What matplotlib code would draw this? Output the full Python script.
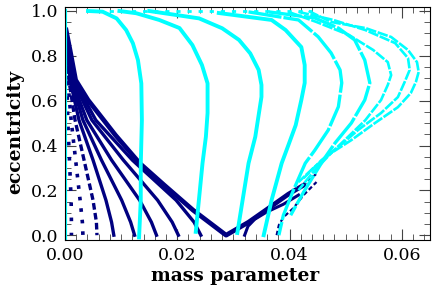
import matplotlib
matplotlib.use("Agg")
import matplotlib.pyplot as plt
from matplotlib.ticker import MultipleLocator

NAVY = "#000080"
CYAN = "#00FFFF"

# ---- cyan curves (mass, eccentricity) ----
c0_m = [0.0, 0.0]
c0_e = [-0.02, 1.0]

c1_m = [0.0041, 0.0067, 0.0092, 0.0109, 0.0121, 0.0130, 0.0136, 0.0137, 0.0135, 0.0135, 0.0132]
c1_e = [1.0, 0.997, 0.967, 0.915, 0.856, 0.781, 0.677, 0.513, 0.313, 0.156, -0.01]

c2_m = [0.0097, 0.0127, 0.0168, 0.0204, 0.0227, 0.0244, 0.0254, 0.0254, 0.0251, 0.0245, 0.0233]
c2_e = [1.0, 0.990, 0.960, 0.924, 0.848, 0.759, 0.677, 0.545, 0.439, 0.321, 0.015]

c3_m = [0.0150, 0.0239, 0.0280, 0.0310, 0.0330, 0.0345, 0.0350, 0.0350, 0.0339, 0.0327, 0.0307]
c3_e = [1.0, 0.967, 0.923, 0.871, 0.811, 0.737, 0.670, 0.617, 0.439, 0.321, 0.01]

c4_m = [0.0274, 0.0368, 0.0393, 0.0421, 0.0427, 0.0427, 0.0421, 0.0411, 0.0398, 0.0386, 0.0368, 0.0354]
c4_e = [0.991, 0.960, 0.915, 0.839, 0.759, 0.679, 0.603, 0.491, 0.402, 0.321, 0.156, 0.0]

c5_m = [0.0327, 0.0416, 0.0451, 0.0474, 0.0490, 0.0493, 0.0487, 0.0469, 0.0445, 0.0428, 0.0407, 0.0389, 0.0381]
c5_e = [0.996, 0.960, 0.885, 0.813, 0.737, 0.679, 0.573, 0.469, 0.379, 0.321, 0.201, 0.089, 0.0]

c6_m = [0.0363, 0.0445, 0.0487, 0.0516, 0.0534, 0.0543, 0.0534, 0.0510, 0.0481, 0.0460, 0.0425, 0.0402]
c6_e = [0.996, 0.969, 0.924, 0.871, 0.781, 0.679, 0.603, 0.500, 0.411, 0.335, 0.192, 0.089]

c7_m = [0.0398, 0.0448, 0.0506, 0.0549, 0.0575, 0.0581, 0.0575, 0.0563, 0.0535, 0.0504, 0.0474, 0.0442, 0.0416]
c7_e = [0.996, 0.951, 0.893, 0.826, 0.772, 0.714, 0.670, 0.603, 0.513, 0.438, 0.366, 0.281, 0.201]

c8_m = [0.0416, 0.0478, 0.0535, 0.0588, 0.0611, 0.0614, 0.0605, 0.0593, 0.0563, 0.0522, 0.0487, 0.0457, 0.0425]
c8_e = [0.996, 0.960, 0.915, 0.857, 0.790, 0.737, 0.683, 0.616, 0.545, 0.469, 0.393, 0.335, 0.254]

c9_m = [0.0434, 0.0474, 0.0535, 0.0581, 0.0611, 0.0627, 0.0630, 0.0625, 0.0616, 0.0593, 0.0552, 0.0510, 0.0474, 0.0442, 0.0416]
c9_e = [1.0, 0.951, 0.924, 0.884, 0.826, 0.772, 0.728, 0.683, 0.634, 0.571, 0.500, 0.424, 0.366, 0.299, 0.237]

# dotted band of points crowding along e ~ 1
top_m = [0.0040, 0.0440]
top_e = [1.0, 1.0]

# ---- navy curves ----
n_e = [0.89, 0.871, 0.692, 0.513, 0.335, 0.156, 0.058, 0.0]
n1_m = [0.0002, 0.0002, 0.00035, 0.0005, 0.0008, 0.0011, 0.00115, 0.00115]
n2_m = [0.0002, 0.0002, 0.0005, 0.0011, 0.0019, 0.0027, 0.0031, 0.0032]
n3_m = [0.0002, 0.00025, 0.0007, 0.0018, 0.0034, 0.0050, 0.0056, 0.0057]
n4_m = [0.0002, 0.00027, 0.0009, 0.0025, 0.0050, 0.0073, 0.0083, 0.0087]
n5_m = [0.0002, 0.0003, 0.0011, 0.0032, 0.0065, 0.0101, 0.0117, 0.0124]
n6_m = [0.0002, 0.0003, 0.0012, 0.0039, 0.0083, 0.0133, 0.0154, 0.0163]
n7_m = [0.0002, 0.0003, 0.0014, 0.0048, 0.0104, 0.0165, 0.0191, 0.0202]
n8_m = [0.0002, 0.00035, 0.0016, 0.0055, 0.0120, 0.0198, 0.0230, 0.0242]

v_m = [0.0002, 0.0009, 0.0019, 0.0041, 0.0062, 0.0090, 0.0133, 0.0177, 0.0228, 0.0287,
       0.0327, 0.0363, 0.0398, 0.0425]
v_e = [0.915, 0.826, 0.692, 0.603, 0.536, 0.446, 0.321, 0.223, 0.112, 0.0,
       0.058, 0.121, 0.183, 0.223]
vtail_m = [0.0425, 0.0451]
vtail_e = [0.223, 0.281]

r1_m = [0.0320, 0.0326, 0.0338, 0.0359, 0.0389, 0.0416]
r1_e = [0.0, 0.040, 0.071, 0.103, 0.138, 0.179]
r2_m = [0.0377, 0.0381, 0.0389, 0.0407, 0.0425, 0.0448]
r2_e = [0.0, 0.045, 0.080, 0.121, 0.179, 0.237]

x_ticks = [0.00, 0.02, 0.04, 0.06]
y_ticks = [0.0, 0.2, 0.4, 0.6, 0.8, 1.0]

plt.rcParams['font.family'] = ['DejaVu Serif']

fig = plt.figure(figsize=(4.36, 2.90), dpi=100)
ax = fig.add_axes([0.149, 0.172, 0.837, 0.804])

# navy family
ax.plot(n1_m, n_e, color=NAVY, lw=2.6, ls=(0, (1, 3.2)))
ax.plot(n2_m, n_e, color=NAVY, lw=2.6, ls=(0, (1, 2.2)))
ax.plot(n3_m, n_e, color=NAVY, lw=2.4, ls=(0, (2, 1)))
for m in [n4_m, n5_m, n6_m, n7_m, n8_m]:
    ax.plot(m, n_e, color=NAVY, lw=2.4)
ax.plot(v_m, v_e, color=NAVY, lw=3.4)
ax.plot(vtail_m, vtail_e, color=NAVY, lw=1.6, ls=(0, (1.5, 1.5)))
ax.plot(r1_m, r1_e, color=NAVY, lw=2.2)
ax.plot(r2_m, r2_e, color=NAVY, lw=1.6, ls=(0, (2, 1.2)))

# cyan family
ax.plot(c0_m, c0_e, color=CYAN, lw=3.0)
ax.plot(top_m, top_e, color=CYAN, lw=2.0, ls=(0, (1.5, 2.5)))
for m, e in [(c1_m, c1_e), (c2_m, c2_e), (c3_m, c3_e), (c4_m, c4_e)]:
    ax.plot(m, e, color=CYAN, lw=2.8)
for m, e in [(c5_m, c5_e), (c6_m, c6_e)]:
    ax.plot(m, e, color=CYAN, lw=2.4, ls=(0, (10, 0.6)))
for m, e in [(c7_m, c7_e), (c8_m, c8_e), (c9_m, c9_e)]:
    ax.plot(m, e, color=CYAN, lw=1.9, ls=(0, (4, 0.6)))

ax.set_xlim(0, 0.065)
ax.set_ylim(-0.022, 1.018)
ax.set_xticks(x_ticks)
ax.set_yticks(y_ticks)
ax.set_xticklabels([f"{t:.2f}" for t in x_ticks])
ax.set_yticklabels([f"{t:.1f}" for t in y_ticks])
ax.xaxis.set_minor_locator(MultipleLocator(0.002))
ax.yaxis.set_minor_locator(MultipleLocator(0.05))
ax.tick_params(which='both', direction='in', top=True, right=True, labelsize=12.5,
               color='#444444')
ax.tick_params(which='major', length=8, width=0.8, pad=5)
ax.tick_params(which='minor', length=4.5, width=0.6)
ax.set_xlabel("mass parameter", fontsize=13.5, fontweight='bold')
ax.set_ylabel("eccentricity", fontsize=13.5, fontweight='bold')
ax.xaxis.set_label_coords(0.466, -0.115)
ax.yaxis.set_label_coords(-0.112, 0.464)

fig.savefig("out.png", dpi=100)
